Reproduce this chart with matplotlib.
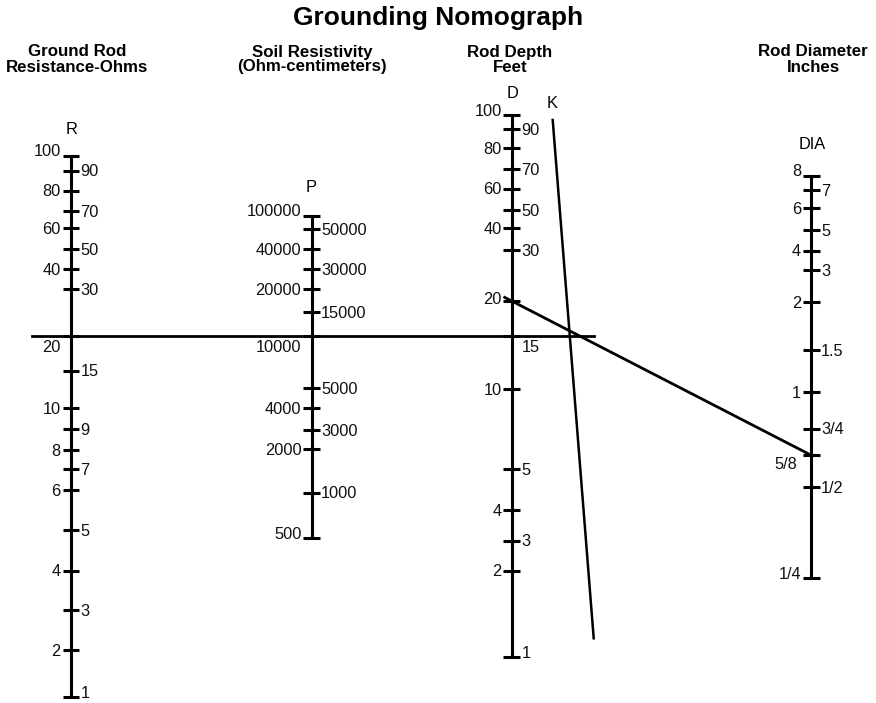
import numpy as np
import matplotlib
matplotlib.use("Agg")
import matplotlib.pyplot as plt

plt.rcParams['font.family'] = ['Liberation Sans', 'DejaVu Sans']

# ---------------- data ----------------
title = "Grounding Nomograph"
headers = ["Ground Rod\nResistance-Ohms", "Soil Resistivity\n(Ohm-centimeters)",
           "Rod Depth\nFeet", "Rod Diameter\nInches"]
scale_letters = ["R", "P", "D", "DIA"]

# scale graduations (value labels and their place along each scale)
r_labels = ["100", "90", "80", "70", "60", "50", "40", "30", "20", "15",
            "10", "9", "8", "7", "6", "5", "4", "3", "2", "1"]
r_grad = [155.7, 170.7, 190.7, 211, 228.3, 249.3, 269, 289, 336, 370.7,
          407.7, 429.3, 450.3, 469, 490, 530, 570.7, 610.3, 650, 696.7]

p_labels = ["100000", "50000", "40000", "30000", "20000", "15000", "10000",
            "5000", "4000", "3000", "2000", "1000", "500"]
p_grad = [215.7, 229.3, 249.3, 269.3, 289.3, 311.7, 336,
          388.3, 408.3, 430, 449.3, 492.7, 538]

d_labels = ["100", "90", "80", "70", "60", "50", "40", "30", "20", "15",
            "10", "5", "4", "3", "2", "1"]
d_grad = [114.7, 129.3, 147.7, 169, 188.7, 209.7, 228, 250, 301, 336,
          389.3, 469, 510, 540.7, 570.7, 656.7]

dia_labels = ["8", "7", "6", "5", "4", "3", "2", "1.5", "1", "3/4", "5/8", "1/2", "1/4"]
dia_grad = [175.7, 190, 208.3, 230, 250.7, 270, 302.3, 350, 392.3, 428.7, 455.3, 487, 578]

# worked example: R = 20, P = 10000 ; D = 20, DIA = 5/8
example_r = "20"
example_p = "10000"
example_d = "20"
example_dia = "5/8"

# K turning line (unscaled reference line)
k_top = (552.7, 120)
k_bottom = (593.7, 638.3)

# ---------------- layout ----------------
W, H = 876, 703
fig = plt.figure(figsize=(W / 100, H / 100), dpi=100)
ax = fig.add_axes([0, 0, 1, 1])
ax.set_xlim(0, W)
ax.set_ylim(H, 0)
ax.axis('off')

axis_x = [71, 311.5, 511.7, 811.3]
scales = [(r_labels, r_grad), (p_labels, p_grad), (d_labels, d_grad), (dia_labels, dia_grad)]
header_x = [76.7, 311.8, 510, 813]
letter_pos = [(72, 130), (311.5, 188), (512.7, 93), (812.5, 144.5)]

LW_AX = 2.2
TICK_HALF = 8.3
FS = 11.8

# labels sitting under the example line
below_line = {(0, "20"), (1, "10000"), (2, "15")}

for i, ((labels, grad), x) in enumerate(zip(scales, axis_x)):
    ax.plot([x, x], [grad[0], grad[-1]], color='black', lw=LW_AX, solid_capstyle='butt')
    n = len(labels)
    for j, (lab, y) in enumerate(zip(labels, grad)):
        ax.plot([x - TICK_HALF, x + TICK_HALF], [y, y], color='black', lw=LW_AX,
                solid_capstyle='butt')
        left = (j % 2 == 0)
        tx = x - 10.2 if left else x + 9.6
        ty = y + 5.8
        if j == 0 or j == n - 1:
            ty = y + 0.8
        if (i, lab) in below_line:
            ty = y + 16.5
        if i == 3 and lab == "5/8":
            ty = y + 13.5
            tx = x - 13.8
        if i == 2 and lab == "20":
            ty = y + 3
        ax.text(tx, ty, lab, ha='right' if left else 'left', va='baseline',
                fontsize=FS, color='#111111')

# headers and title
ax.text(W / 2, 18, title, ha='center', va='center', fontsize=19, fontweight='bold')
for hx, h in zip(header_x, headers):
    ax.text(hx, 59.5, h, ha='center', va='center', fontsize=12.2, fontweight='bold',
            linespacing=1.0)
for (lx, ly), s in zip(letter_pos, scale_letters):
    ax.text(lx, ly, s, ha='center', va='center', fontsize=FS)
ax.text(k_top[0] - 1, 104, "K", ha='center', va='center', fontsize=FS)


def pos(labels, grad, lab):
    return grad[labels.index(lab)]


# K line
ax.plot([k_top[0], k_bottom[0]], [k_top[1], k_bottom[1]], color='black', lw=1.8)

# example line 1: R -> P, extended to K
y1 = pos(r_labels, r_grad, example_r)
y1b = pos(p_labels, p_grad, example_p)
ax.plot([axis_x[0] - 39, axis_x[2] + 82], [y1, y1b], color='black', lw=2.0)

# example line 2: D -> DIA through K
yd = pos(d_labels, d_grad, example_d)
ydia = pos(dia_labels, dia_grad, example_dia)
slope = (ydia - yd) / (axis_x[3] - axis_x[2])
x0, x1 = axis_x[2] - 7, axis_x[3] - 3
ax.plot([x0, x1], [yd + slope * (x0 - axis_x[2]), yd + slope * (x1 - axis_x[2])],
        color='black', lw=2.0)

fig.savefig("out.png", dpi=100, facecolor='white')
